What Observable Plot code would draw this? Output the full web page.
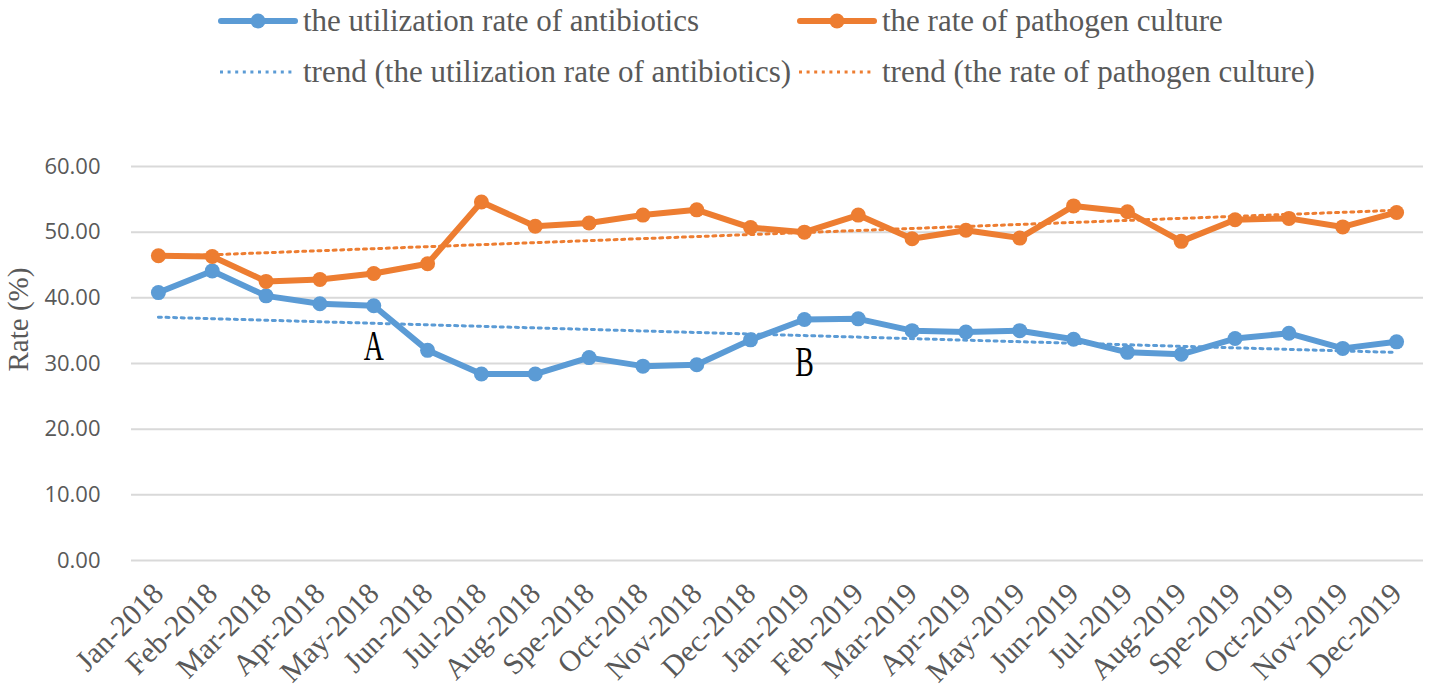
<!DOCTYPE html>
<html>
<head>
<meta charset="utf-8">
<script src="https://cdn.jsdelivr.net/npm/d3@7"></script>
<script src="https://cdn.jsdelivr.net/npm/@observablehq/plot@0.6"></script>
<style>
  html, body { margin: 0; padding: 0; background: #fff; }
  #wrap { width: 1430px; height: 689px; position: relative; overflow: hidden; }
  #legend { position: relative; width: 1430px; height: 100px; font-family: "Liberation Serif", "Times New Roman", serif; font-size: 31px; color: #595959; }
  .item { position: absolute; display: flex; align-items: center; white-space: nowrap; height: 40px; }
  .item svg { display: block; margin-right: 5px; }
</style>
</head>
<body>
<div id="wrap">
  <div id="legend"></div>
  <div id="chart"></div>
</div>
<script>
const months = ["Jan-2018","Feb-2018","Mar-2018","Apr-2018","May-2018","Jun-2018","Jul-2018","Aug-2018","Spe-2018","Oct-2018","Nov-2018","Dec-2018",
                "Jan-2019","Feb-2019","Mar-2019","Apr-2019","May-2019","Jun-2019","Jul-2019","Aug-2019","Spe-2019","Oct-2019","Nov-2019","Dec-2019"];
const antibiotics = [40.8,44.1,40.3,39.1,38.8,32.0,28.4,28.4,30.9,29.6,29.8,33.6,
                     36.7,36.8,35.0,34.8,35.0,33.7,31.7,31.4,33.8,34.6,32.3,33.3];
const culture = [46.4,46.3,42.5,42.8,43.7,45.2,54.6,50.9,51.4,52.6,53.4,50.7,
                 50.0,52.6,49.0,50.3,49.1,54.0,53.1,48.6,51.9,52.1,50.8,53.0];
const yTicks = [0,10,20,30,40,50,60];
const seriesNames = ["the utilization rate of antibiotics", "the rate of pathogen culture"];
const trendNames = ["trend (the utilization rate of antibiotics)", "trend (the rate of pathogen culture)"];
const annoLabels = ["A","B"];
const annoMonth = ["May-2018","Jan-2019"];
const annoValue = [32.6, 30.2];
const yTitle = "Rate (%)";

const BLUE = "#5B9BD5", ORANGE = "#ED7D31";

const rowsA = antibiotics.map((v, i) => ({i, month: months[i], value: v}));
const rowsC = culture.map((v, i) => ({i, month: months[i], value: v}));
const annos = annoLabels.map((t, k) => ({t, i: months.indexOf(annoMonth[k]), value: annoValue[k]}));

// Legend
const legend = document.getElementById("legend");
function addItem(left, top, color, dotted, label) {
  const div = document.createElement("div");
  div.className = "item";
  div.style.left = left + "px";
  div.style.top = (top - 20) + "px";
  const w = 80;
  let sw;
  if (dotted) {
    sw = `<svg width="${w}" height="20"><line x1="2" x2="${w-6}" y1="10" y2="10" stroke="${color}" stroke-width="3" stroke-dasharray="3 4.6"/></svg>`;
  } else {
    sw = `<svg width="${w}" height="20"><line x1="3" x2="${w-3}" y1="10" y2="10" stroke="${color}" stroke-width="6" stroke-linecap="round"/><circle cx="${w/2}" cy="10" r="7.5" fill="${color}"/></svg>`;
  }
  div.innerHTML = sw + `<span>${label}</span>`;
  legend.appendChild(div);
}
addItem(218, 21, BLUE, false, seriesNames[0]);
addItem(797, 21, ORANGE, false, seriesNames[1]);
addItem(218, 72, BLUE, true, trendNames[0]);
addItem(797, 72, ORANGE, true, trendNames[1]);

const chart = Plot.plot({
  width: 1430,
  height: 589,
  marginTop: 66,
  marginBottom: 129,
  marginLeft: 131,
  marginRight: 7,
  x: {type: "linear", domain: [-0.5, months.length - 0.5]},
  y: {domain: [0, 60]},
  style: {background: "white", overflow: "visible"},
  marks: [
    Plot.gridY(yTicks, {stroke: "#d9d9d9", strokeOpacity: 1, strokeWidth: 2}),
    Plot.axisY(yTicks, {tickSize: 0, tickPadding: 31, tickFormat: d => d.toFixed(2),
      fontSize: 22, fill: "#595959", label: null}),
    Plot.axisX(d3.range(months.length), {tickSize: 0, tickPadding: 28, tickRotate: -45,
      tickFormat: i => months[i], fontSize: 30, fill: "#595959", label: null}),
    Plot.line(rowsA, {x: "i", y: "value", stroke: BLUE, strokeWidth: 6}),
    Plot.dot(rowsA, {x: "i", y: "value", r: 7.5, fill: BLUE}),
    Plot.line(rowsC, {x: "i", y: "value", stroke: ORANGE, strokeWidth: 6}),
    Plot.dot(rowsC, {x: "i", y: "value", r: 7.5, fill: ORANGE}),
    Plot.linearRegressionY(rowsA, {x: "i", y: "value", stroke: BLUE, strokeWidth: 3, strokeDasharray: "3 4.6", ci: 0}),
    Plot.linearRegressionY(rowsC, {x: "i", y: "value", stroke: ORANGE, strokeWidth: 3, strokeDasharray: "3 4.6", ci: 0}),
    Plot.text(annos, {x: "i", y: "value", text: "t", fontSize: 32, fontFamily: "Liberation Serif, serif", fill: "#000"}),
    Plot.text([yTitle], {frameAnchor: "left", rotate: -90, dx: -113, dy: 8, fontSize: 29,
      fontFamily: "Liberation Serif, serif", fill: "#595959"})
  ]
});
const sel = d3.select(chart);
const yLabels = yTicks.map(d => d.toFixed(2));
sel.selectAll("text").filter(function() { return months.includes(this.textContent); })
   .style("font-family", "'Liberation Serif', serif").style("font-size", "30px");
sel.selectAll("text").filter(function() { return yLabels.includes(this.textContent); })
   .style("font-family", "'Open Sans', sans-serif").style("font-size", "22px");
document.getElementById("chart").appendChild(chart);
// make annotation letters tall and narrow like the original
sel.selectAll("text").filter(function() { return annoLabels.includes(this.textContent); })
  .each(function() {
    const bb = this.getBBox();
    const cx = bb.x + bb.width / 2, cy = bb.y + bb.height / 2;
    const t = this.getAttribute("transform") || "";
    this.setAttribute("transform", `${t} translate(${cx},${cy}) scale(0.87,1.33) translate(${-cx},${-cy})`);
  });
</script>
</body>
</html>
